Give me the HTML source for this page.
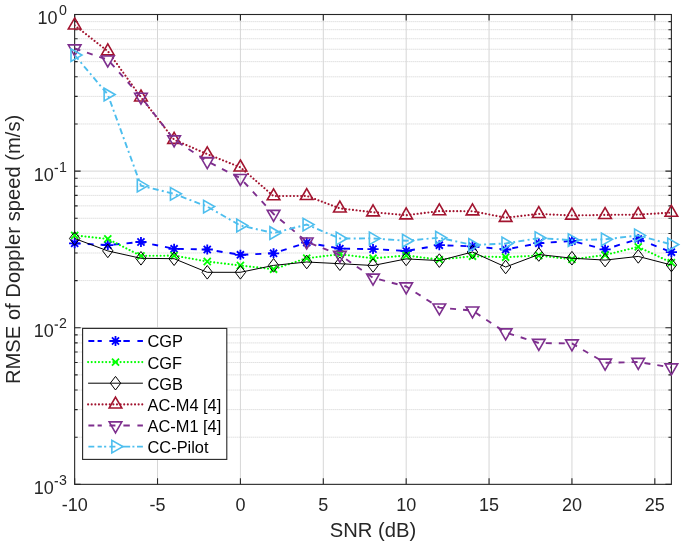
<!DOCTYPE html>
<html><head><meta charset="utf-8"><style>html,body{margin:0;padding:0;background:#fff;width:685px;height:547px;overflow:hidden}</style></head>
<body>
<svg width="685" height="547" viewBox="0 0 685 547" style="display:block;filter:blur(0.45px)">
<rect width="685" height="547" fill="#fff"/>
<path d="M74.65 123.97H671.4M74.65 96.39H671.4M74.65 76.82H671.4M74.65 61.65H671.4M74.65 49.25H671.4M74.65 38.76H671.4M74.65 29.68H671.4M74.65 21.67H671.4M74.65 280.59H671.4M74.65 253.01H671.4M74.65 233.44H671.4M74.65 218.26H671.4M74.65 205.86H671.4M74.65 195.38H671.4M74.65 186.29H671.4M74.65 178.28H671.4M74.65 437.2H671.4M74.65 409.62H671.4M74.65 390.06H671.4M74.65 374.88H671.4M74.65 362.48H671.4M74.65 351.99H671.4M74.65 342.91H671.4M74.65 334.9H671.4" stroke="#d0d0d0" stroke-width="1" stroke-dasharray="1 1" fill="none"/>
<path d="M157.53 14.5V484.35M240.41 14.5V484.35M323.3 14.5V484.35M406.18 14.5V484.35M489.06 14.5V484.35M571.94 14.5V484.35M654.82 14.5V484.35M74.65 171.12H671.4M74.65 327.73H671.4" stroke="#d6d6d6" stroke-width="1" fill="none"/>
<path d="M74.65 484.35V478.35M74.65 14.5V20.5M157.53 484.35V478.35M157.53 14.5V20.5M240.41 484.35V478.35M240.41 14.5V20.5M323.3 484.35V478.35M323.3 14.5V20.5M406.18 484.35V478.35M406.18 14.5V20.5M489.06 484.35V478.35M489.06 14.5V20.5M571.94 484.35V478.35M571.94 14.5V20.5M654.82 484.35V478.35M654.82 14.5V20.5M74.65 14.5H80.65M671.4 14.5H665.4M74.65 171.12H80.65M671.4 171.12H665.4M74.65 327.73H80.65M671.4 327.73H665.4M74.65 484.35H80.65M671.4 484.35H665.4M74.65 123.97H77.65M671.4 123.97H668.4M74.65 96.39H77.65M671.4 96.39H668.4M74.65 76.82H77.65M671.4 76.82H668.4M74.65 61.65H77.65M671.4 61.65H668.4M74.65 49.25H77.65M671.4 49.25H668.4M74.65 38.76H77.65M671.4 38.76H668.4M74.65 29.68H77.65M671.4 29.68H668.4M74.65 21.67H77.65M671.4 21.67H668.4M74.65 280.59H77.65M671.4 280.59H668.4M74.65 253.01H77.65M671.4 253.01H668.4M74.65 233.44H77.65M671.4 233.44H668.4M74.65 218.26H77.65M671.4 218.26H668.4M74.65 205.86H77.65M671.4 205.86H668.4M74.65 195.38H77.65M671.4 195.38H668.4M74.65 186.29H77.65M671.4 186.29H668.4M74.65 178.28H77.65M671.4 178.28H668.4M74.65 437.2H77.65M671.4 437.2H668.4M74.65 409.62H77.65M671.4 409.62H668.4M74.65 390.06H77.65M671.4 390.06H668.4M74.65 374.88H77.65M671.4 374.88H668.4M74.65 362.48H77.65M671.4 362.48H668.4M74.65 351.99H77.65M671.4 351.99H668.4M74.65 342.91H77.65M671.4 342.91H668.4M74.65 334.9H77.65M671.4 334.9H668.4" stroke="#262626" stroke-width="1.1" fill="none"/>
<rect x="74.65" y="14.5" width="596.75" height="469.85" stroke="#262626" stroke-width="1.1" fill="none"/>
<defs><clipPath id="ax"><rect x="74.65" y="14.5" width="596.75" height="469.85"/></clipPath></defs>
<polyline points="74.65,243.3 107.8,245.1 140.96,242 174.11,248.8 207.26,249.5 240.41,254.8 273.57,253.3 306.72,242.6 339.87,248.6 373.02,249.1 406.18,251 439.33,245.2 472.48,246.3 505.64,249.5 538.79,243.2 571.94,241 605.09,249.4 638.25,238.9 671.4,252.2" stroke="#0000ff" stroke-width="1.9" fill="none" stroke-dasharray="6 7" clip-path="url(#ax)"/>
<path d="M69.05 243.3H80.25M74.65 238.3V248.3M71.11 239.76L78.19 246.84M71.11 246.84L78.19 239.76" stroke="#0000ff" stroke-width="1.8" fill="none"/>
<path d="M102.2 245.1H113.4M107.8 240.1V250.1M104.27 241.56L111.34 248.64M104.27 248.64L111.34 241.56" stroke="#0000ff" stroke-width="1.8" fill="none"/>
<path d="M135.36 242H146.56M140.96 237V247M137.42 238.46L144.49 245.54M137.42 245.54L144.49 238.46" stroke="#0000ff" stroke-width="1.8" fill="none"/>
<path d="M168.51 248.8H179.71M174.11 243.8V253.8M170.57 245.26L177.64 252.34M170.57 252.34L177.64 245.26" stroke="#0000ff" stroke-width="1.8" fill="none"/>
<path d="M201.66 249.5H212.86M207.26 244.5V254.5M203.73 245.96L210.8 253.04M203.73 253.04L210.8 245.96" stroke="#0000ff" stroke-width="1.8" fill="none"/>
<path d="M234.81 254.8H246.01M240.41 249.8V259.8M236.88 251.26L243.95 258.34M236.88 258.34L243.95 251.26" stroke="#0000ff" stroke-width="1.8" fill="none"/>
<path d="M267.97 253.3H279.17M273.57 248.3V258.3M270.03 249.76L277.1 256.84M270.03 256.84L277.1 249.76" stroke="#0000ff" stroke-width="1.8" fill="none"/>
<path d="M301.12 242.6H312.32M306.72 237.6V247.6M303.18 239.06L310.25 246.14M303.18 246.14L310.25 239.06" stroke="#0000ff" stroke-width="1.8" fill="none"/>
<path d="M334.27 248.6H345.47M339.87 243.6V253.6M336.34 245.06L343.41 252.14M336.34 252.14L343.41 245.06" stroke="#0000ff" stroke-width="1.8" fill="none"/>
<path d="M367.42 249.1H378.62M373.02 244.1V254.1M369.49 245.56L376.56 252.64M369.49 252.64L376.56 245.56" stroke="#0000ff" stroke-width="1.8" fill="none"/>
<path d="M400.58 251H411.78M406.18 246V256M402.64 247.46L409.71 254.54M402.64 254.54L409.71 247.46" stroke="#0000ff" stroke-width="1.8" fill="none"/>
<path d="M433.73 245.2H444.93M439.33 240.2V250.2M435.8 241.66L442.87 248.74M435.8 248.74L442.87 241.66" stroke="#0000ff" stroke-width="1.8" fill="none"/>
<path d="M466.88 246.3H478.08M472.48 241.3V251.3M468.95 242.76L476.02 249.84M468.95 249.84L476.02 242.76" stroke="#0000ff" stroke-width="1.8" fill="none"/>
<path d="M500.04 249.5H511.24M505.64 244.5V254.5M502.1 245.96L509.17 253.04M502.1 253.04L509.17 245.96" stroke="#0000ff" stroke-width="1.8" fill="none"/>
<path d="M533.19 243.2H544.39M538.79 238.2V248.2M535.25 239.66L542.32 246.74M535.25 246.74L542.32 239.66" stroke="#0000ff" stroke-width="1.8" fill="none"/>
<path d="M566.34 241H577.54M571.94 236V246M568.41 237.46L575.48 244.54M568.41 244.54L575.48 237.46" stroke="#0000ff" stroke-width="1.8" fill="none"/>
<path d="M599.49 249.4H610.69M605.09 244.4V254.4M601.56 245.86L608.63 252.94M601.56 252.94L608.63 245.86" stroke="#0000ff" stroke-width="1.8" fill="none"/>
<path d="M632.65 238.9H643.85M638.25 233.9V243.9M634.71 235.36L641.78 242.44M634.71 242.44L641.78 235.36" stroke="#0000ff" stroke-width="1.8" fill="none"/>
<path d="M665.8 252.2H677M671.4 247.2V257.2M667.86 248.66L674.94 255.74M667.86 255.74L674.94 248.66" stroke="#0000ff" stroke-width="1.8" fill="none"/>
<polyline points="74.65,235.4 107.8,238.9 140.96,255.9 174.11,255.6 207.26,261.5 240.41,265.5 273.57,269.2 306.72,258.2 339.87,254.2 373.02,258.3 406.18,255.5 439.33,259.6 472.48,256.2 505.64,257.2 538.79,255.5 571.94,259.3 605.09,255 638.25,246.9 671.4,262.6" stroke="#00ff00" stroke-width="2.1" fill="none" stroke-dasharray="0.01 3.6" stroke-linecap="round" clip-path="url(#ax)"/>
<path d="M71.11 231.86L78.19 238.94M71.11 238.94L78.19 231.86" stroke="#00ff00" stroke-width="1.8" fill="none"/>
<path d="M104.27 235.36L111.34 242.44M104.27 242.44L111.34 235.36" stroke="#00ff00" stroke-width="1.8" fill="none"/>
<path d="M137.42 252.36L144.49 259.44M137.42 259.44L144.49 252.36" stroke="#00ff00" stroke-width="1.8" fill="none"/>
<path d="M170.57 252.06L177.64 259.14M170.57 259.14L177.64 252.06" stroke="#00ff00" stroke-width="1.8" fill="none"/>
<path d="M203.73 257.96L210.8 265.04M203.73 265.04L210.8 257.96" stroke="#00ff00" stroke-width="1.8" fill="none"/>
<path d="M236.88 261.96L243.95 269.04M236.88 269.04L243.95 261.96" stroke="#00ff00" stroke-width="1.8" fill="none"/>
<path d="M270.03 265.66L277.1 272.74M270.03 272.74L277.1 265.66" stroke="#00ff00" stroke-width="1.8" fill="none"/>
<path d="M303.18 254.66L310.25 261.74M303.18 261.74L310.25 254.66" stroke="#00ff00" stroke-width="1.8" fill="none"/>
<path d="M336.34 250.66L343.41 257.74M336.34 257.74L343.41 250.66" stroke="#00ff00" stroke-width="1.8" fill="none"/>
<path d="M369.49 254.76L376.56 261.84M369.49 261.84L376.56 254.76" stroke="#00ff00" stroke-width="1.8" fill="none"/>
<path d="M402.64 251.96L409.71 259.04M402.64 259.04L409.71 251.96" stroke="#00ff00" stroke-width="1.8" fill="none"/>
<path d="M435.8 256.06L442.87 263.14M435.8 263.14L442.87 256.06" stroke="#00ff00" stroke-width="1.8" fill="none"/>
<path d="M468.95 252.66L476.02 259.74M468.95 259.74L476.02 252.66" stroke="#00ff00" stroke-width="1.8" fill="none"/>
<path d="M502.1 253.66L509.17 260.74M502.1 260.74L509.17 253.66" stroke="#00ff00" stroke-width="1.8" fill="none"/>
<path d="M535.25 251.96L542.32 259.04M535.25 259.04L542.32 251.96" stroke="#00ff00" stroke-width="1.8" fill="none"/>
<path d="M568.41 255.76L575.48 262.84M568.41 262.84L575.48 255.76" stroke="#00ff00" stroke-width="1.8" fill="none"/>
<path d="M601.56 251.46L608.63 258.54M601.56 258.54L608.63 251.46" stroke="#00ff00" stroke-width="1.8" fill="none"/>
<path d="M634.71 243.36L641.78 250.44M634.71 250.44L641.78 243.36" stroke="#00ff00" stroke-width="1.8" fill="none"/>
<path d="M667.86 259.06L674.94 266.14M667.86 266.14L674.94 259.06" stroke="#00ff00" stroke-width="1.8" fill="none"/>
<polyline points="74.65,238.5 107.8,250.9 140.96,258.3 174.11,258.7 207.26,272.3 240.41,272.3 273.57,265.4 306.72,262 339.87,263.7 373.02,265.5 406.18,258.9 439.33,260.6 472.48,252 505.64,267 538.79,254.5 571.94,258.2 605.09,260.1 638.25,256.4 671.4,265" stroke="#000000" stroke-width="1.0" fill="none" clip-path="url(#ax)"/>
<path d="M74.65 231.7L79.85 238.5L74.65 245.3L69.45 238.5Z" stroke="#000000" stroke-width="1.0" fill="none"/>
<path d="M107.8 244.1L113 250.9L107.8 257.7L102.6 250.9Z" stroke="#000000" stroke-width="1.0" fill="none"/>
<path d="M140.96 251.5L146.16 258.3L140.96 265.1L135.76 258.3Z" stroke="#000000" stroke-width="1.0" fill="none"/>
<path d="M174.11 251.9L179.31 258.7L174.11 265.5L168.91 258.7Z" stroke="#000000" stroke-width="1.0" fill="none"/>
<path d="M207.26 265.5L212.46 272.3L207.26 279.1L202.06 272.3Z" stroke="#000000" stroke-width="1.0" fill="none"/>
<path d="M240.41 265.5L245.61 272.3L240.41 279.1L235.21 272.3Z" stroke="#000000" stroke-width="1.0" fill="none"/>
<path d="M273.57 258.6L278.77 265.4L273.57 272.2L268.37 265.4Z" stroke="#000000" stroke-width="1.0" fill="none"/>
<path d="M306.72 255.2L311.92 262L306.72 268.8L301.52 262Z" stroke="#000000" stroke-width="1.0" fill="none"/>
<path d="M339.87 256.9L345.07 263.7L339.87 270.5L334.67 263.7Z" stroke="#000000" stroke-width="1.0" fill="none"/>
<path d="M373.02 258.7L378.22 265.5L373.02 272.3L367.82 265.5Z" stroke="#000000" stroke-width="1.0" fill="none"/>
<path d="M406.18 252.1L411.38 258.9L406.18 265.7L400.98 258.9Z" stroke="#000000" stroke-width="1.0" fill="none"/>
<path d="M439.33 253.8L444.53 260.6L439.33 267.4L434.13 260.6Z" stroke="#000000" stroke-width="1.0" fill="none"/>
<path d="M472.48 245.2L477.68 252L472.48 258.8L467.28 252Z" stroke="#000000" stroke-width="1.0" fill="none"/>
<path d="M505.64 260.2L510.84 267L505.64 273.8L500.44 267Z" stroke="#000000" stroke-width="1.0" fill="none"/>
<path d="M538.79 247.7L543.99 254.5L538.79 261.3L533.59 254.5Z" stroke="#000000" stroke-width="1.0" fill="none"/>
<path d="M571.94 251.4L577.14 258.2L571.94 265L566.74 258.2Z" stroke="#000000" stroke-width="1.0" fill="none"/>
<path d="M605.09 253.3L610.29 260.1L605.09 266.9L599.89 260.1Z" stroke="#000000" stroke-width="1.0" fill="none"/>
<path d="M638.25 249.6L643.45 256.4L638.25 263.2L633.05 256.4Z" stroke="#000000" stroke-width="1.0" fill="none"/>
<path d="M671.4 258.2L676.6 265L671.4 271.8L666.2 265Z" stroke="#000000" stroke-width="1.0" fill="none"/>
<polyline points="74.65,25.3 107.8,51.2 140.96,97.3 174.11,139.7 207.26,154.1 240.41,167.3 273.57,196.1 306.72,195.9 339.87,208.4 373.02,212.2 406.18,215.2 439.33,211.1 472.48,211.2 505.64,217.7 538.79,213.9 571.94,215.5 605.09,214.9 638.25,214.6 671.4,212.6" stroke="#a2142f" stroke-width="2.1" fill="none" stroke-dasharray="0.01 3.6" stroke-linecap="round" clip-path="url(#ax)"/>
<path d="M74.65 18L80.97 28.95L68.33 28.95Z" stroke="#a2142f" stroke-width="1.6" fill="none" stroke-miterlimit="10"/>
<path d="M107.8 43.9L114.12 54.85L101.48 54.85Z" stroke="#a2142f" stroke-width="1.6" fill="none" stroke-miterlimit="10"/>
<path d="M140.96 90L147.28 100.95L134.63 100.95Z" stroke="#a2142f" stroke-width="1.6" fill="none" stroke-miterlimit="10"/>
<path d="M174.11 132.4L180.43 143.35L167.79 143.35Z" stroke="#a2142f" stroke-width="1.6" fill="none" stroke-miterlimit="10"/>
<path d="M207.26 146.8L213.58 157.75L200.94 157.75Z" stroke="#a2142f" stroke-width="1.6" fill="none" stroke-miterlimit="10"/>
<path d="M240.41 160L246.74 170.95L234.09 170.95Z" stroke="#a2142f" stroke-width="1.6" fill="none" stroke-miterlimit="10"/>
<path d="M273.57 188.8L279.89 199.75L267.24 199.75Z" stroke="#a2142f" stroke-width="1.6" fill="none" stroke-miterlimit="10"/>
<path d="M306.72 188.6L313.04 199.55L300.4 199.55Z" stroke="#a2142f" stroke-width="1.6" fill="none" stroke-miterlimit="10"/>
<path d="M339.87 201.1L346.19 212.05L333.55 212.05Z" stroke="#a2142f" stroke-width="1.6" fill="none" stroke-miterlimit="10"/>
<path d="M373.02 204.9L379.35 215.85L366.7 215.85Z" stroke="#a2142f" stroke-width="1.6" fill="none" stroke-miterlimit="10"/>
<path d="M406.18 207.9L412.5 218.85L399.86 218.85Z" stroke="#a2142f" stroke-width="1.6" fill="none" stroke-miterlimit="10"/>
<path d="M439.33 203.8L445.65 214.75L433.01 214.75Z" stroke="#a2142f" stroke-width="1.6" fill="none" stroke-miterlimit="10"/>
<path d="M472.48 203.9L478.81 214.85L466.16 214.85Z" stroke="#a2142f" stroke-width="1.6" fill="none" stroke-miterlimit="10"/>
<path d="M505.64 210.4L511.96 221.35L499.31 221.35Z" stroke="#a2142f" stroke-width="1.6" fill="none" stroke-miterlimit="10"/>
<path d="M538.79 206.6L545.11 217.55L532.47 217.55Z" stroke="#a2142f" stroke-width="1.6" fill="none" stroke-miterlimit="10"/>
<path d="M571.94 208.2L578.26 219.15L565.62 219.15Z" stroke="#a2142f" stroke-width="1.6" fill="none" stroke-miterlimit="10"/>
<path d="M605.09 207.6L611.42 218.55L598.77 218.55Z" stroke="#a2142f" stroke-width="1.6" fill="none" stroke-miterlimit="10"/>
<path d="M638.25 207.3L644.57 218.25L631.93 218.25Z" stroke="#a2142f" stroke-width="1.6" fill="none" stroke-miterlimit="10"/>
<path d="M671.4 205.3L677.72 216.25L665.08 216.25Z" stroke="#a2142f" stroke-width="1.6" fill="none" stroke-miterlimit="10"/>
<polyline points="74.65,48.5 107.8,59.7 140.96,96.9 174.11,139.5 207.26,161.3 240.41,178.2 273.57,214 306.72,241.7 339.87,255 373.02,277.8 406.18,286.5 439.33,307.6 472.48,310.6 505.64,332.5 538.79,343 571.94,343.5 605.09,362.8 638.25,362 671.4,367.5" stroke="#7e2f8e" stroke-width="1.9" fill="none" stroke-dasharray="6 7" clip-path="url(#ax)"/>
<path d="M74.65 55.8L68.33 44.85L80.97 44.85Z" stroke="#7e2f8e" stroke-width="1.6" fill="none" stroke-miterlimit="10"/>
<path d="M107.8 67L101.48 56.05L114.12 56.05Z" stroke="#7e2f8e" stroke-width="1.6" fill="none" stroke-miterlimit="10"/>
<path d="M140.96 104.2L134.63 93.25L147.28 93.25Z" stroke="#7e2f8e" stroke-width="1.6" fill="none" stroke-miterlimit="10"/>
<path d="M174.11 146.8L167.79 135.85L180.43 135.85Z" stroke="#7e2f8e" stroke-width="1.6" fill="none" stroke-miterlimit="10"/>
<path d="M207.26 168.6L200.94 157.65L213.58 157.65Z" stroke="#7e2f8e" stroke-width="1.6" fill="none" stroke-miterlimit="10"/>
<path d="M240.41 185.5L234.09 174.55L246.74 174.55Z" stroke="#7e2f8e" stroke-width="1.6" fill="none" stroke-miterlimit="10"/>
<path d="M273.57 221.3L267.24 210.35L279.89 210.35Z" stroke="#7e2f8e" stroke-width="1.6" fill="none" stroke-miterlimit="10"/>
<path d="M306.72 249L300.4 238.05L313.04 238.05Z" stroke="#7e2f8e" stroke-width="1.6" fill="none" stroke-miterlimit="10"/>
<path d="M339.87 262.3L333.55 251.35L346.19 251.35Z" stroke="#7e2f8e" stroke-width="1.6" fill="none" stroke-miterlimit="10"/>
<path d="M373.02 285.1L366.7 274.15L379.35 274.15Z" stroke="#7e2f8e" stroke-width="1.6" fill="none" stroke-miterlimit="10"/>
<path d="M406.18 293.8L399.86 282.85L412.5 282.85Z" stroke="#7e2f8e" stroke-width="1.6" fill="none" stroke-miterlimit="10"/>
<path d="M439.33 314.9L433.01 303.95L445.65 303.95Z" stroke="#7e2f8e" stroke-width="1.6" fill="none" stroke-miterlimit="10"/>
<path d="M472.48 317.9L466.16 306.95L478.81 306.95Z" stroke="#7e2f8e" stroke-width="1.6" fill="none" stroke-miterlimit="10"/>
<path d="M505.64 339.8L499.31 328.85L511.96 328.85Z" stroke="#7e2f8e" stroke-width="1.6" fill="none" stroke-miterlimit="10"/>
<path d="M538.79 350.3L532.47 339.35L545.11 339.35Z" stroke="#7e2f8e" stroke-width="1.6" fill="none" stroke-miterlimit="10"/>
<path d="M571.94 350.8L565.62 339.85L578.26 339.85Z" stroke="#7e2f8e" stroke-width="1.6" fill="none" stroke-miterlimit="10"/>
<path d="M605.09 370.1L598.77 359.15L611.42 359.15Z" stroke="#7e2f8e" stroke-width="1.6" fill="none" stroke-miterlimit="10"/>
<path d="M638.25 369.3L631.93 358.35L644.57 358.35Z" stroke="#7e2f8e" stroke-width="1.6" fill="none" stroke-miterlimit="10"/>
<path d="M671.4 374.8L665.08 363.85L677.72 363.85Z" stroke="#7e2f8e" stroke-width="1.6" fill="none" stroke-miterlimit="10"/>
<polyline points="74.65,55.1 107.8,94.55 140.96,185.65 174.11,193.85 207.26,206.6 240.41,225.5 273.57,233.05 306.72,224.6 339.87,238.5 373.02,238.4 406.18,240.7 439.33,237.7 472.48,245 505.64,243.5 538.79,238.1 571.94,240.1 605.09,239.35 638.25,235.4 671.4,244.5" stroke="#4dbeee" stroke-width="1.9" fill="none" stroke-dasharray="6 3.3 2 3.3" clip-path="url(#ax)"/>
<path d="M81.95 55.1L71 61.42L71 48.78Z" stroke="#4dbeee" stroke-width="1.6" fill="none" stroke-miterlimit="10"/>
<path d="M115.1 94.55L104.15 100.87L104.15 88.23Z" stroke="#4dbeee" stroke-width="1.6" fill="none" stroke-miterlimit="10"/>
<path d="M148.26 185.65L137.31 191.97L137.31 179.33Z" stroke="#4dbeee" stroke-width="1.6" fill="none" stroke-miterlimit="10"/>
<path d="M181.41 193.85L170.46 200.17L170.46 187.53Z" stroke="#4dbeee" stroke-width="1.6" fill="none" stroke-miterlimit="10"/>
<path d="M214.56 206.6L203.61 212.92L203.61 200.28Z" stroke="#4dbeee" stroke-width="1.6" fill="none" stroke-miterlimit="10"/>
<path d="M247.71 225.5L236.76 231.82L236.76 219.18Z" stroke="#4dbeee" stroke-width="1.6" fill="none" stroke-miterlimit="10"/>
<path d="M280.87 233.05L269.92 239.37L269.92 226.73Z" stroke="#4dbeee" stroke-width="1.6" fill="none" stroke-miterlimit="10"/>
<path d="M314.02 224.6L303.07 230.92L303.07 218.28Z" stroke="#4dbeee" stroke-width="1.6" fill="none" stroke-miterlimit="10"/>
<path d="M347.17 238.5L336.22 244.82L336.22 232.18Z" stroke="#4dbeee" stroke-width="1.6" fill="none" stroke-miterlimit="10"/>
<path d="M380.32 238.4L369.38 244.72L369.38 232.08Z" stroke="#4dbeee" stroke-width="1.6" fill="none" stroke-miterlimit="10"/>
<path d="M413.48 240.7L402.53 247.02L402.53 234.38Z" stroke="#4dbeee" stroke-width="1.6" fill="none" stroke-miterlimit="10"/>
<path d="M446.63 237.7L435.68 244.02L435.68 231.38Z" stroke="#4dbeee" stroke-width="1.6" fill="none" stroke-miterlimit="10"/>
<path d="M479.78 245L468.83 251.32L468.83 238.68Z" stroke="#4dbeee" stroke-width="1.6" fill="none" stroke-miterlimit="10"/>
<path d="M512.94 243.5L501.99 249.82L501.99 237.18Z" stroke="#4dbeee" stroke-width="1.6" fill="none" stroke-miterlimit="10"/>
<path d="M546.09 238.1L535.14 244.42L535.14 231.78Z" stroke="#4dbeee" stroke-width="1.6" fill="none" stroke-miterlimit="10"/>
<path d="M579.24 240.1L568.29 246.42L568.29 233.78Z" stroke="#4dbeee" stroke-width="1.6" fill="none" stroke-miterlimit="10"/>
<path d="M612.39 239.35L601.44 245.67L601.44 233.03Z" stroke="#4dbeee" stroke-width="1.6" fill="none" stroke-miterlimit="10"/>
<path d="M645.55 235.4L634.6 241.72L634.6 229.08Z" stroke="#4dbeee" stroke-width="1.6" fill="none" stroke-miterlimit="10"/>
<path d="M678.7 244.5L667.75 250.82L667.75 238.18Z" stroke="#4dbeee" stroke-width="1.6" fill="none" stroke-miterlimit="10"/>
<g font-family="Liberation Sans, sans-serif" font-size="18" fill="#262626" text-anchor="middle">
<text x="74.65" y="510.5">-10</text>
<text x="157.53" y="510.5">-5</text>
<text x="240.41" y="510.5">0</text>
<text x="323.3" y="510.5">5</text>
<text x="406.18" y="510.5">10</text>
<text x="489.06" y="510.5">15</text>
<text x="571.94" y="510.5">20</text>
<text x="654.82" y="510.5">25</text>
</g>
<g font-family="Liberation Sans, sans-serif" fill="#262626">
<text x="37.5" y="24.2" font-size="18">10</text>
<text x="59.1" y="15.2" font-size="14.2">0</text>
<text x="33.8" y="180.82" font-size="18">10</text>
<text x="59.1" y="171.82" font-size="14.2">1</text>
<rect x="54.6" y="167.82" width="3.4" height="1.3"/>
<text x="33.8" y="337.43" font-size="18">10</text>
<text x="59.1" y="328.43" font-size="14.2">2</text>
<rect x="54.6" y="324.43" width="3.4" height="1.3"/>
<text x="33.8" y="494.05" font-size="18">10</text>
<text x="59.1" y="485.05" font-size="14.2">3</text>
<rect x="54.6" y="481.05" width="3.4" height="1.3"/>
</g>
<text x="373.02" y="536.8" font-family="Liberation Sans, sans-serif" font-size="20.2" fill="#262626" text-anchor="middle">SNR (dB)</text>
<text transform="translate(20,249.43) rotate(-90)" font-family="Liberation Sans, sans-serif" font-size="20.2" fill="#262626" text-anchor="middle">RMSE of Doppler speed (m/s)</text>
<rect x="82.6" y="328.4" width="144.2" height="131" fill="#fff" stroke="#262626" stroke-width="1.1"/>
<path d="M88.4 341H94.3M97.6 341H101.8M109.4 341H115.4M123.4 341H129.8M137.4 341H142.9" stroke="#0000ff" stroke-width="1.9" fill="none"/>
<path d="M109.9 341H121.1M115.5 336V346M111.96 337.46L119.04 344.54M111.96 344.54L119.04 337.46" stroke="#0000ff" stroke-width="1.8" fill="none"/>
<text x="147.5" y="347.4" font-family="Liberation Sans, sans-serif" font-size="16.4" fill="#000">CGP</text>
<path d="M88.1 362.1H142.9" stroke="#00ff00" stroke-width="2.1" fill="none" stroke-dasharray="0.01 3.6" stroke-linecap="round"/>
<path d="M111.96 358.56L119.04 365.64M111.96 365.64L119.04 358.56" stroke="#00ff00" stroke-width="1.8" fill="none"/>
<text x="147.5" y="368.5" font-family="Liberation Sans, sans-serif" font-size="16.4" fill="#000">CGF</text>
<path d="M88.1 383.2H142.9" stroke="#000000" stroke-width="1.0" fill="none"/>
<path d="M115.5 376.4L120.7 383.2L115.5 390L110.3 383.2Z" stroke="#000000" stroke-width="1.0" fill="none"/>
<text x="147.5" y="389.6" font-family="Liberation Sans, sans-serif" font-size="16.4" fill="#000">CGB</text>
<path d="M88.1 404.4H142.9" stroke="#a2142f" stroke-width="2.1" fill="none" stroke-dasharray="0.01 3.6" stroke-linecap="round"/>
<path d="M115.5 397.1L121.82 408.05L109.18 408.05Z" stroke="#a2142f" stroke-width="1.6" fill="none" stroke-miterlimit="10"/>
<text x="147.5" y="410.8" font-family="Liberation Sans, sans-serif" font-size="16.4" fill="#000">AC-M4 [4]</text>
<path d="M88.4 425.5H94.3M97.6 425.5H101.8M109.4 425.5H115.4M123.4 425.5H129.8M137.4 425.5H142.9" stroke="#7e2f8e" stroke-width="1.9" fill="none"/>
<path d="M115.5 432.8L109.18 421.85L121.82 421.85Z" stroke="#7e2f8e" stroke-width="1.6" fill="none" stroke-miterlimit="10"/>
<text x="147.5" y="431.9" font-family="Liberation Sans, sans-serif" font-size="16.4" fill="#000">AC-M1 [4]</text>
<path d="M88.4 446.6H94.3M97.6 446.6H101.8M104.1 446.6H106.2M109.4 446.6H115.4M121.8 446.6H130.2M132.4 446.6H134.4M137 446.6H142.9" stroke="#4dbeee" stroke-width="1.9" fill="none"/>
<path d="M122.8 446.6L111.85 452.92L111.85 440.28Z" stroke="#4dbeee" stroke-width="1.6" fill="none" stroke-miterlimit="10"/>
<text x="147.5" y="453" font-family="Liberation Sans, sans-serif" font-size="16.4" fill="#000">CC-Pilot</text>
</svg>
</body></html>
